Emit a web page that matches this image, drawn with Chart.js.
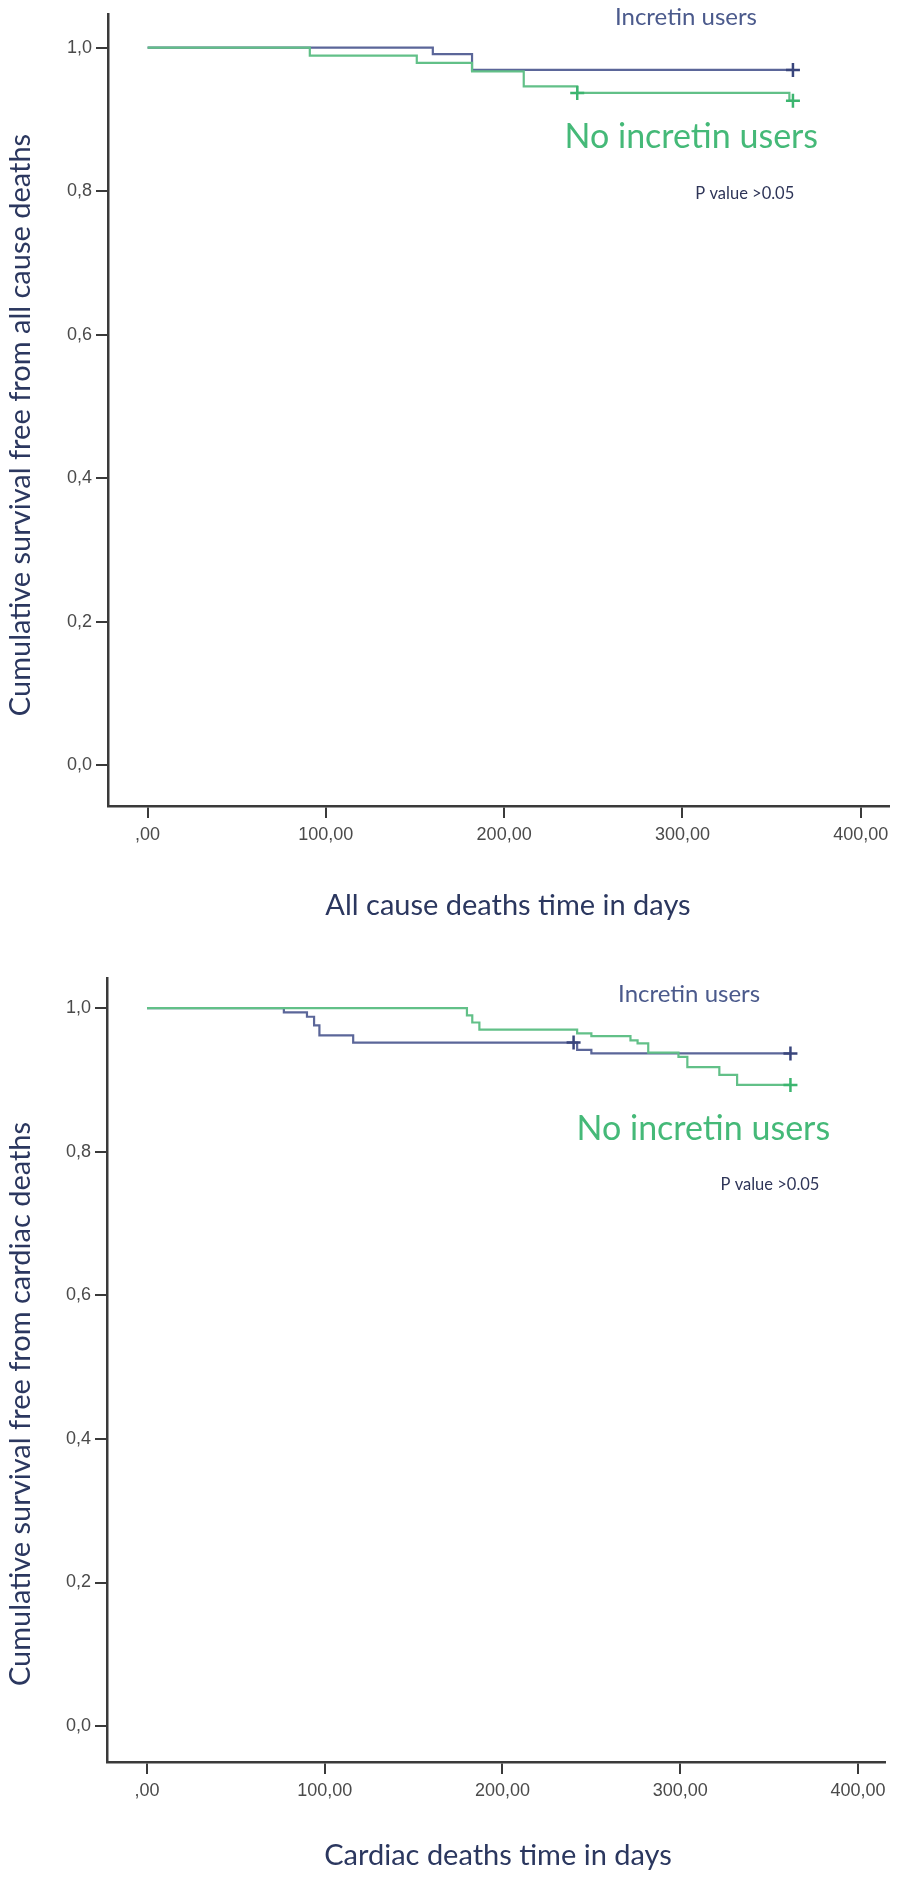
<!DOCTYPE html>
<html>
<head>
<meta charset="utf-8">
<script src="https://cdn.jsdelivr.net/npm/chart.js@4.4.1/dist/chart.umd.min.js"></script>
<style>
  html, body { margin: 0; padding: 0; background: #ffffff; }
  body { width: 898px; height: 1879px; position: relative; overflow: hidden; }
  .box { position: absolute; left: 0; width: 898px; }
  #b1 { top: 0; height: 940px; }
  #b2 { top: 940px; height: 939px; }
</style>
</head>
<body>
<div class="box" id="b1"><canvas id="c1"></canvas></div>
<div class="box" id="b2"><canvas id="c2"></canvas></div>
<script>
// ---------- DATA ----------
const xTickValues = [0, 100, 200, 300, 400];
const xTickLabels = [",00", "100,00", "200,00", "300,00", "400,00"];
const yTickValues = [0, 0.2, 0.4, 0.6, 0.8, 1.0];
const yTickLabels = ["0,0", "0,2", "0,4", "0,6", "0,8", "1,0"];

// Chart 1: all cause deaths (event times in days, survival after event)
const allIncretinTimes    = [0, 160, 182, 362];
const allIncretinSurv     = [1.0, 0.991, 0.969, 0.969];
const allIncretinCensorT  = [362];
const allIncretinCensorS  = [0.969];
const allNoIncretinTimes  = [0, 91, 151, 182, 211, 241, 360, 362];
const allNoIncretinSurv   = [1.0, 0.989, 0.979, 0.967, 0.946, 0.937, 0.926, 0.926];
const allNoIncretinCensorT = [241, 362];
const allNoIncretinCensorS = [0.937, 0.926];

// Chart 2: cardiac deaths
const cardIncretinTimes   = [0, 77, 90, 94, 97, 116, 242, 250, 362];
const cardIncretinSurv    = [1.0, 0.994, 0.988, 0.976, 0.962, 0.952, 0.942, 0.937, 0.937];
const cardIncretinCensorT = [240, 362];
const cardIncretinCensorS = [0.952, 0.937];
const cardNoIncretinTimes = [0, 180, 183, 187, 242, 250, 272, 276, 282, 299, 304, 322, 332, 362];
const cardNoIncretinSurv  = [1.0, 0.99, 0.98, 0.970, 0.965, 0.961, 0.955, 0.951, 0.938, 0.932, 0.918, 0.907, 0.893, 0.893];
const cardNoIncretinCensorT = [362];
const cardNoIncretinCensorS = [0.893];

const groupNames = ["Incretin users", "No incretin users"];
const pText = "P value >0.05";
const xTitles = ["All cause deaths time in days", "Cardiac deaths time in days"];
const yTitles = ["Cumulative survival free from all cause deaths", "Cumulative survival free from cardiac deaths"];

// ---------- STYLE ----------
const BLUE = "#5b6699";
const BLUE_DARK = "#39457c";
const GREEN = "#62c088";
const GREEN_DARK = "#3cb56f";
const AXIS = "#3a3a3a";
const TICKTXT = "#4a4a4a";
const TITLE = "#2b375f";
const TITLE_FONT = '29px Lato, sans-serif';

function pts(t, s) { return t.map((v, i) => ({ x: v, y: s[i] })); }

function makeChart(id, cfg) {
  const annot = {
    id: 'annot',
    afterDraw(chart) {
      const { ctx, scales: { x, y } } = chart;
      ctx.save();
      ctx.textAlign = 'center';
      ctx.textBaseline = 'middle';
      cfg.labels.forEach(l => {
        ctx.font = l.font;
        ctx.fillStyle = l.color;
        ctx.fillText(l.text, x.getPixelForValue(l.x), y.getPixelForValue(l.y));
      });
      // axis titles
      ctx.font = TITLE_FONT;
      ctx.fillStyle = TITLE;
      ctx.fillText(cfg.xTitle, cfg.xTitlePos[0], cfg.xTitlePos[1]);
      ctx.translate(cfg.yTitlePos[0], cfg.yTitlePos[1]);
      ctx.rotate(-Math.PI / 2);
      ctx.fillText(cfg.yTitle, 0, 0);
      ctx.restore();
    }
  };
  return new Chart(document.getElementById(id), {
    type: 'scatter',
    data: {
      datasets: [
        { data: pts(cfg.incC[0], cfg.incC[1]), pointStyle: 'cross', pointRadius: 7, pointBorderWidth: 2.5,
          borderColor: BLUE_DARK, backgroundColor: BLUE_DARK, showLine: false, order: 0 },
        { data: pts(cfg.noC[0], cfg.noC[1]), pointStyle: 'cross', pointRadius: 7, pointBorderWidth: 2.5,
          borderColor: GREEN_DARK, backgroundColor: GREEN_DARK, showLine: false, order: 0 },
        { data: pts(cfg.no[0], cfg.no[1]), showLine: true, stepped: 'before', borderColor: GREEN,
          borderWidth: 2.2, pointRadius: 0, order: 1 },
        { data: pts(cfg.inc[0], cfg.inc[1]), showLine: true, stepped: 'before', borderColor: BLUE,
          borderWidth: 2.2, pointRadius: 0, order: 2 }
      ]
    },
    options: {
      responsive: true,
      maintainAspectRatio: false,
      animation: false,
      events: [],
      layout: { padding: cfg.pad },
      plugins: { legend: { display: false }, tooltip: { enabled: false } },
      scales: {
        x: {
          type: 'linear', min: cfg.xmin, max: cfg.xmax,
          afterBuildTicks: s => { s.ticks = xTickValues.map(v => ({ value: v })); },
          afterFit: s => { s.height = cfg.xh; s.paddingLeft = 0; s.paddingRight = 0; },
          ticks: {
            autoSkip: false, maxRotation: 0, padding: 6, color: TICKTXT,
            font: { family: 'Liberation Sans, Arial, sans-serif', size: 18 },
            callback: v => xTickLabels[xTickValues.indexOf(v)]
          },
          grid: { drawOnChartArea: false, drawTicks: true, tickLength: 12, color: AXIS, lineWidth: 2 },
          border: { display: true, color: AXIS, width: 2.5 },
          title: { display: false }
        },
        y: {
          type: 'linear', min: cfg.ymin, max: cfg.ymax,
          afterBuildTicks: s => { s.ticks = yTickValues.map(v => ({ value: v })); },
          afterFit: s => { s.width = cfg.yw; s.paddingTop = 0; s.paddingBottom = 0; },
          ticks: {
            autoSkip: false, padding: 4, color: TICKTXT,
            font: { family: 'Liberation Sans, Arial, sans-serif', size: 18 },
            callback: v => yTickLabels[yTickValues.indexOf(v)]
          },
          grid: { drawOnChartArea: false, drawTicks: true, tickLength: 12, color: AXIS, lineWidth: 2 },
          border: { display: true, color: AXIS, width: 2.5 },
          title: { display: false }
        }
      }
    },
    plugins: [annot]
  });
}

makeChart('c1', {
  inc: [allIncretinTimes, allIncretinSurv], incC: [allIncretinCensorT, allIncretinCensorS],
  no: [allNoIncretinTimes, allNoIncretinSurv], noC: [allNoIncretinCensorT, allNoIncretinCensorS],
  xmin: -22.2, xmax: 415.6, ymin: -0.057, ymax: 1.047,
  pad: { left: 0, top: 14, right: 2, bottom: 0 }, xh: 134, yw: 108,
  xTitle: xTitles[0], yTitle: yTitles[0], xTitlePos: [508, 906], yTitlePos: [21, 425],
  labels: [
    { text: groupNames[0], x: 302, y: 1.043, font: '24px Lato, sans-serif', color: '#4b5a8c' },
    { text: groupNames[1], x: 305, y: 0.876, font: '34px Lato, sans-serif', color: '#45b978' },
    { text: pText, x: 335, y: 0.796, font: '16.5px Lato, sans-serif', color: '#2e3558' }
  ]
});

makeChart('c2', {
  inc: [cardIncretinTimes, cardIncretinSurv], incC: [cardIncretinCensorT, cardIncretinCensorS],
  no: [cardNoIncretinTimes, cardNoIncretinSurv], noC: [cardNoIncretinCensorT, cardNoIncretinCensorS],
  xmin: -22.5, xmax: 415.2, ymin: -0.05, ymax: 1.042,
  pad: { left: 0, top: 38, right: 13, bottom: 0 }, xh: 117, yw: 107,
  xTitle: xTitles[1], yTitle: yTitles[1], xTitlePos: [498, 916], yTitlePos: [21, 464],
  labels: [
    { text: groupNames[0], x: 305, y: 1.0195, font: '24px Lato, sans-serif', color: '#4b5a8c' },
    { text: groupNames[1], x: 313, y: 0.8315, font: '34px Lato, sans-serif', color: '#45b978' },
    { text: pText, x: 350.5, y: 0.7535, font: '16.5px Lato, sans-serif', color: '#2e3558' }
  ]
});
</script>
</body>
</html>
